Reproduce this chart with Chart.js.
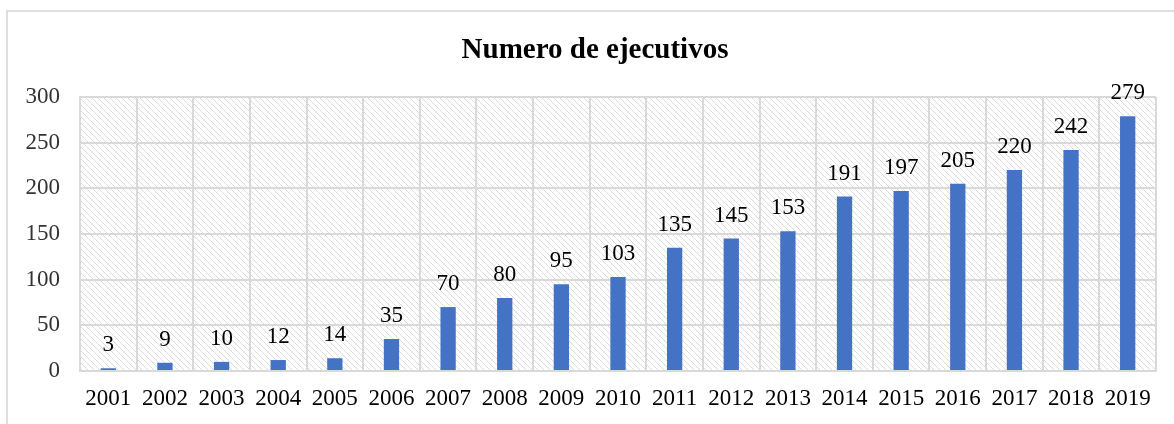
<!DOCTYPE html>
<html>
<head>
<meta charset="utf-8">
<script src="https://cdn.jsdelivr.net/npm/chart.js@4/dist/chart.umd.min.js"></script>
<style>
  html, body { margin: 0; padding: 0; background: #fff; overflow: hidden; }
  #frame { position: absolute; left: 6px; top: 10px; width: 1200px; height: 450px; border: 2px solid #dedede; }
  #wrap { position: absolute; left: 0; top: 0; width: 1174px; height: 424px; }
</style>
</head>
<body>
<div id="frame"></div>
<div id="wrap"><canvas id="chart"></canvas></div>
<script>
const chartTitle = 'Numero de ejecutivos';
const years = ['2001', '2002', '2003', '2004', '2005', '2006', '2007', '2008', '2009', '2010',
  '2011', '2012', '2013', '2014', '2015', '2016', '2017', '2018', '2019'];
const ejecutivos = [3, 9, 10, 12, 14, 35, 70, 80, 95, 103, 135, 145, 153, 191, 197, 205, 220, 242, 279];
const yTicks = [0, 50, 100, 150, 200, 250, 300];

const serif = '"Liberation Serif", "Times New Roman", serif';

// diagonal hatch for the plot background
function hatch() {
  let c = document.createElement('canvas');
  c.width = 6;
  c.height = 6;
  let g = c.getContext('2d');
  g.strokeStyle = '#dcdcdc';
  g.lineWidth = 1;
  g.beginPath();
  g.moveTo(-1, -1); g.lineTo(7, 7);
  g.moveTo(-1, 5); g.lineTo(1, 7);
  g.moveTo(5, -1); g.lineTo(7, 1);
  g.stroke();
  return g.createPattern(c, 'repeat');
}

const bgPlugin = {
  id: 'hatchBg',
  beforeDraw(chart) {
    let a = chart.chartArea;
    let ctx = chart.ctx;
    ctx.save();
    ctx.fillStyle = hatch();
    ctx.fillRect(a.left, a.top, a.right - a.left, a.bottom - a.top);
    ctx.restore();
  }
};

// title sits a bit right of the canvas centre in the original, so draw it here
const titlePlugin = {
  id: 'offsetTitle',
  afterDraw(chart) {
    let ctx = chart.ctx;
    ctx.save();
    ctx.font = 'bold 29px ' + serif;
    ctx.fillStyle = '#000';
    ctx.textAlign = 'center';
    ctx.textBaseline = 'middle';
    ctx.fillText(chartTitle, 595, 51);
    ctx.restore();
  }
};

const labelPlugin = {
  id: 'valueLabels',
  afterDatasetsDraw(chart) {
    let ctx = chart.ctx;
    let meta = chart.getDatasetMeta(0);
    ctx.save();
    ctx.font = '23px ' + serif;
    ctx.fillStyle = '#000';
    ctx.textAlign = 'center';
    ctx.textBaseline = 'alphabetic';
    meta.data.forEach((bar, i) => {
      ctx.fillText(String(ejecutivos[i]), bar.x, bar.y - 17);
    });
    ctx.restore();
  }
};

new Chart(document.getElementById('chart'), {
  type: 'bar',
  data: {
    labels: years,
    datasets: [{
      data: ejecutivos,
      backgroundColor: '#4472C4',
      barPercentage: 0.27,
      categoryPercentage: 1.0
    }]
  },
  options: {
    responsive: true,
    maintainAspectRatio: false,
    animation: false,
    layout: { padding: { left: 0, right: 18, top: 97, bottom: 0 } },
    plugins: {
      legend: { display: false },
      tooltip: { enabled: false },
      title: { display: false }
    },
    scales: {
      x: {
        grid: { color: '#d9d9d9', lineWidth: 2, drawTicks: false, offset: true },
        border: { color: '#d9d9d9', width: 2 },
        ticks: {
          color: '#000',
          padding: 14,
          maxRotation: 0,
          font: { family: serif, size: 23 }
        },
        afterFit(scale) { scale.height = 53; }
      },
      y: {
        min: 0,
        max: 300,
        afterBuildTicks(scale) { scale.ticks = yTicks.map(v => ({ value: v })); },
        grid: { color: '#d9d9d9', lineWidth: 2, drawTicks: false },
        border: { color: '#d9d9d9', width: 2 },
        ticks: {
          color: '#333',
          padding: 20,
          font: { family: serif, size: 23 }
        },
        afterFit(scale) { scale.width = 80; }
      }
    }
  },
  plugins: [bgPlugin, labelPlugin, titlePlugin]
});
</script>
</body>
</html>
